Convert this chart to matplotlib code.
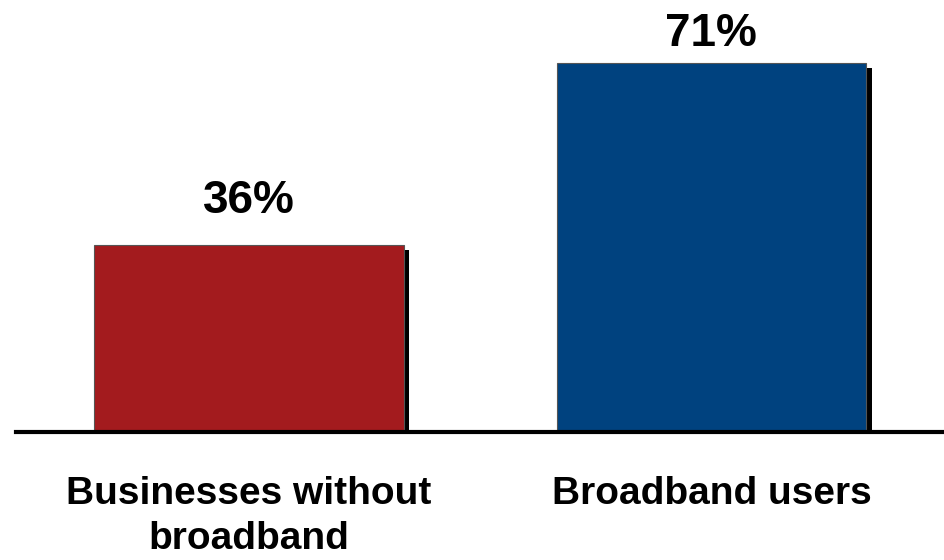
import matplotlib.pyplot as plt

# Chart data
categories = ['Businesses without\nbroadband', 'Broadband users']
values = [36, 71]
colors = ['#A31B1E', '#00427F']

plt.rcParams['font.family'] = ['Liberation Sans', 'DejaVu Sans']

fig = plt.figure(figsize=(9.44, 5.6), dpi=100)
ax = fig.add_axes([16 / 944, 128 / 560, 928 / 944, 432 / 560])

x = list(range(len(categories)))
width = 0.67

# drop shadow behind each bar
ax.bar([i + 0.012 for i in x], [v - 0.95 for v in values], width=width,
       color='black', zorder=1)
bars = ax.bar(x, values, width=width, color=colors, edgecolor='#555555',
              linewidth=0.8, zorder=2)

# value labels on top (gap above bar differs a bit in the original)
label_gap = [6.2, 3.2]
for b, v, g in zip(bars, values, label_gap):
    ax.text(b.get_x() + b.get_width() / 2, v + g, f'{v}%',
            ha='center', va='baseline', fontsize=33, fontweight='bold')

ax.set_xlim(-0.504, 1.503)
ax.set_ylim(0, 83.1)
ax.set_xticks(x)
ax.set_xticklabels(categories, fontsize=28, fontweight='bold', linespacing=1.3)
ax.tick_params(axis='x', length=0, pad=32)
ax.set_yticks([])

for s in ['top', 'right', 'left']:
    ax.spines[s].set_visible(False)
ax.spines['bottom'].set_linewidth(3)
ax.spines['bottom'].set_zorder(3)

fig.savefig('out.png', dpi=100)
